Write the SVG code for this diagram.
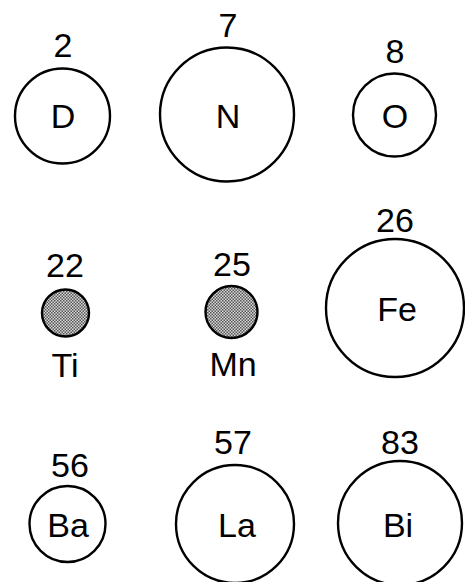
<svg xmlns="http://www.w3.org/2000/svg" width="465" height="582" viewBox="0 0 465 582">
<defs>
<pattern id="stip" width="3" height="3" patternUnits="userSpaceOnUse">
<rect width="3" height="3" fill="#d8d8d8"/>
<rect x="0" y="0" width="1.5" height="1.5" fill="#555"/>
<rect x="1.5" y="1.5" width="1.5" height="1.5" fill="#555"/>
</pattern>
<style>
circle{fill:none;stroke:#000;stroke-width:2.4}
circle.s{fill:url(#stip)}
text{font-family:"Liberation Sans",Arial,sans-serif;font-size:34px;fill:#000;text-anchor:middle}
</style>
</defs>
<rect width="465" height="582" fill="#fff"/>
<g id="D"><text x="63" y="57">2</text><circle cx="62.5" cy="116" r="47.5"/><text x="63" y="128">D</text></g>
<g id="N"><text x="228" y="37">7</text><circle cx="227" cy="114.5" r="67"/><text x="228" y="128">N</text></g>
<g id="O"><text x="395" y="63">8</text><circle cx="394.5" cy="115" r="41.5"/><text x="395" y="128">O</text></g>
<g id="Ti"><text x="65" y="277">22</text><circle class="s" cx="65.5" cy="313" r="23.5"/><text x="65" y="377">Ti</text></g>
<g id="Mn"><text x="232" y="276">25</text><circle class="s" cx="231.5" cy="312" r="26"/><text x="233" y="376">Mn</text></g>
<g id="Fe"><text x="395" y="232">26</text><circle cx="395" cy="308" r="69"/><text x="397" y="321">Fe</text></g>
<g id="Ba"><text x="70" y="477">56</text><circle cx="67.5" cy="524" r="38"/><text x="68" y="537">Ba</text></g>
<g id="La"><text x="233" y="454">57</text><circle cx="235" cy="524" r="59"/><text x="237" y="537">La</text></g>
<g id="Bi"><text x="400" y="454">83</text><circle cx="400" cy="523" r="62"/><text x="398" y="537">Bi</text></g>
<g id="connectors"/>
</svg>
